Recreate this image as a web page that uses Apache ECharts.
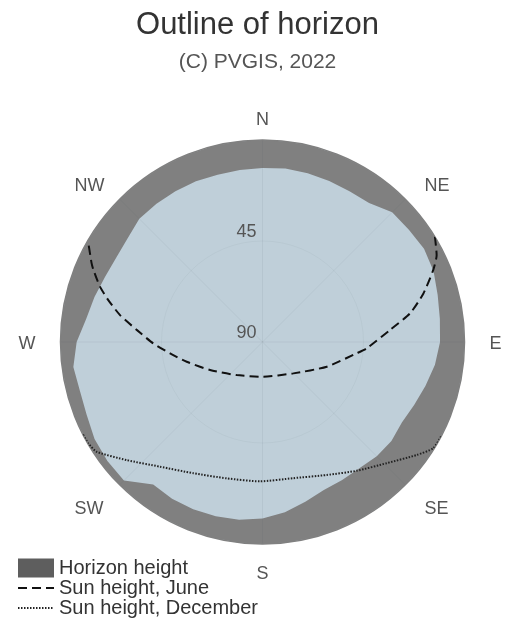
<!DOCTYPE html>
<html>
<head>
<meta charset="utf-8">
<script src="https://cdn.jsdelivr.net/npm/echarts@6/dist/echarts.min.js"></script>
<style>
  html, body { margin: 0; padding: 0; background: #ffffff; }
  #chart { width: 515px; height: 627px; }
</style>
</head>
<body>
<div id="chart"></div>
<script>
// Horizon profile: elevation (deg) of the skyline every 7.5 deg of azimuth, clockwise from north
const horizonAzimuth = [0, 7.5, 15, 22.5, 30, 37.5, 45, 52.5, 60, 67.5, 75, 82.5,
  90, 97.5, 105, 112.5, 120, 127.5, 135, 142.5, 150, 157.5, 165, 172.5,
  180, 187.5, 195, 202.5, 210, 217.5, 225, 232.5, 240, 247.5, 255, 262.5,
  270, 277.5, 285, 292.5, 300, 307.5, 315, 322.5, 330, 337.5, 345, 352.5];
const horizonHeight = [12.5, 12.0, 12.2, 12.3, 12.5, 12.0, 8.3, 7.8, 6.9, 7.5, 9.2, 10.3,
  10.9, 12.5, 14.8, 16.8, 18.3, 17.6, 18.0, 19.1, 19.0, 18.6, 16.3, 13.5,
  11.4, 10.1, 9.6, 9.3, 9.4, 10.0, 2.7, 2.9, 3.6, 5.2, 5.8, 5.0,
  7.2, 10.8, 12.5, 14.1, 14.8, 14.2, 12.4, 12.4, 12.4, 12.5, 12.8, 12.7];

// Sun path on the June solstice: azimuth and elevation (deg)
const juneAzimuth = [58.6, 63.5, 67.1, 73.2, 79.0, 84.6, 93.5, 96.8, 111.0, 135.5, 180.0,
  218.0, 241.9, 255.4, 263.0, 269.3, 275.5, 280.7, 285.2, 288.8, 293.1, 294.7, 299.9];
const juneElevation = [0, 3.3, 7.4, 15.1, 23.0, 32.9, 43.5, 47.7, 59.3, 70.4, 74.5,
  71.3, 63.5, 55.1, 48.5, 41.3, 33.7, 25.4, 18.8, 13.5, 8.1, 6.2, 0.4];

// Sun path on the December solstice
const decemberAzimuth = [117.9, 121.9, 126.2, 134.3, 143.8, 154.2, 167.3, 181.0,
  194.7, 207.8, 219.4, 229.0, 236.5, 239.8, 242.8];
const decemberElevation = [0, 0.4, 4.8, 12.7, 18.9, 24.2, 27.8, 27.9,
  27.2, 23.9, 18.1, 9.8, 1.4, 0.2, 0];

// Compass tick labels (every 45 deg) and elevation tick labels
const compassLabels = ['N', 'NE', 'E', 'SE', 'S', 'SW', 'W', 'NW'];
const elevationTicks = [0, 45, 90];

const seriesNames = ['Horizon height', 'Sun height, June', 'Sun height, December'];

function pairs(az, el) {
  return az.map((a, i) => [el[i], a]);
}

// close the skyline ring back onto north
const horizonData = pairs(horizonAzimuth, horizonHeight);
horizonData.push([horizonHeight[0], 360]);

const FONT = 'Liberation Sans, Arial, sans-serif';
const LABEL_COLOR = '#555555';

// extra spacing that pushes each compass label outward from the rim
const compassRich = {
  N:  { padding: [0, 0, 5, 0] },
  NE: { padding: [0, 0, 0, 15] },
  E:  { padding: [4, 0, 0, 19] },
  SE: { padding: [11, 0, 0, 15] },
  S:  { padding: [15, 0, 0, 0] },
  SW: { padding: [11, 12, 0, 0] },
  W:  { padding: [4, 19, 0, 0] },
  NW: { padding: [0, 11, 0, 0] }
};
Object.keys(compassRich).forEach(k => {
  Object.assign(compassRich[k], { fontFamily: FONT, fontSize: 18, color: LABEL_COLOR });
});

const chart = echarts.init(document.getElementById('chart'), null, { renderer: 'canvas' });

chart.setOption({
  animation: false,
  backgroundColor: '#ffffff',
  title: {
    text: 'Outline of horizon',
    subtext: '(C) PVGIS, 2022',
    left: 'center',
    top: 5,
    itemGap: 11,
    textStyle: { fontFamily: FONT, fontSize: 31, fontWeight: 'normal', color: '#333333' },
    subtextStyle: { fontFamily: FONT, fontSize: 21, color: '#555555' }
  },
  legend: {
    orient: 'vertical',
    left: 12,
    top: 553,
    itemWidth: 36,
    itemHeight: 19,
    itemGap: 0,
    textStyle: { fontFamily: FONT, fontSize: 20, color: '#333333' },
    data: [
      { name: seriesNames[0], icon: 'rect', itemStyle: { color: '#5e5e5e' } },
      { name: seriesNames[1], itemStyle: { opacity: 0 } },
      { name: seriesNames[2], itemStyle: { opacity: 0 } }
    ]
  },
  polar: [
    { center: [262.5, 342], radius: 202 },
    { center: [262.5, 342], radius: 202 }
  ],
  angleAxis: [
    {
      polarIndex: 0,
      type: 'value',
      min: 0,
      max: 360,
      interval: 45,
      startAngle: 90,
      clockwise: true,
      axisLine: { show: false },
      axisTick: { show: false },
      axisLabel: {
        margin: 6,
        formatter: v => {
          if (v >= 360) return '';
          const name = compassLabels[Math.round(v / 45) % 8];
          return '{' + name + '|' + name + '}';
        },
        rich: compassRich
      },
      splitLine: { show: false },
      splitArea: { show: true, areaStyle: { color: ['#bfcfd9'] } }
    },
    {
      // grid overlay drawn above the filled areas
      polarIndex: 1,
      type: 'value',
      min: 0,
      max: 360,
      interval: 45,
      startAngle: 90,
      clockwise: true,
      z: 4,
      axisLine: { show: true, lineStyle: { color: '#808080', width: 1.5 } },
      axisTick: { show: false },
      axisLabel: { show: false },
      splitLine: { show: true, lineStyle: { color: 'rgba(60,70,80,0.07)', width: 1 } },
      splitArea: { show: false }
    }
  ],
  radiusAxis: [
    {
      polarIndex: 0,
      type: 'value',
      min: elevationTicks[0],
      max: elevationTicks[elevationTicks.length - 1],
      interval: elevationTicks[1] - elevationTicks[0],
      inverse: true,
      axisLine: { show: false },
      axisTick: { show: false },
      axisLabel: {
        showMinLabel: false,
        fontFamily: FONT,
        fontSize: 18,
        color: LABEL_COLOR,
        verticalAlign: 'bottom',
        margin: 6
      },
      splitLine: { show: false }
    },
    {
      polarIndex: 1,
      type: 'value',
      min: elevationTicks[0],
      max: elevationTicks[elevationTicks.length - 1],
      interval: elevationTicks[1] - elevationTicks[0],
      inverse: true,
      z: 4,
      axisLine: { show: false },
      axisTick: { show: false },
      axisLabel: { show: false },
      splitLine: { show: true, lineStyle: { color: 'rgba(60,70,80,0.05)', width: 1 } }
    }
  ],
  series: [
    {
      name: seriesNames[0],
      type: 'line',
      coordinateSystem: 'polar',
      polarIndex: 0,
      data: horizonData,
      symbol: 'none',
      itemStyle: { color: '#5e5e5e' },
      lineStyle: { width: 0, color: '#808080' },
      areaStyle: { color: '#808080', opacity: 1, origin: 'start' },
      z: 2
    },
    {
      name: seriesNames[1],
      type: 'line',
      coordinateSystem: 'polar',
      polarIndex: 0,
      data: pairs(juneAzimuth, juneElevation),
      symbol: 'none',
      smooth: 0.2,
      itemStyle: { color: '#111111' },
      lineStyle: { color: '#111111', width: 2, type: [9, 5] },
      z: 5
    },
    {
      name: seriesNames[2],
      type: 'line',
      coordinateSystem: 'polar',
      polarIndex: 0,
      data: pairs(decemberAzimuth, decemberElevation),
      symbol: 'none',
      smooth: 0.2,
      itemStyle: { color: '#222222' },
      lineStyle: { color: '#222222', width: 2, type: [1.5, 1.5] },
      z: 5
    }
  ]
});
</script>
</body>
</html>
